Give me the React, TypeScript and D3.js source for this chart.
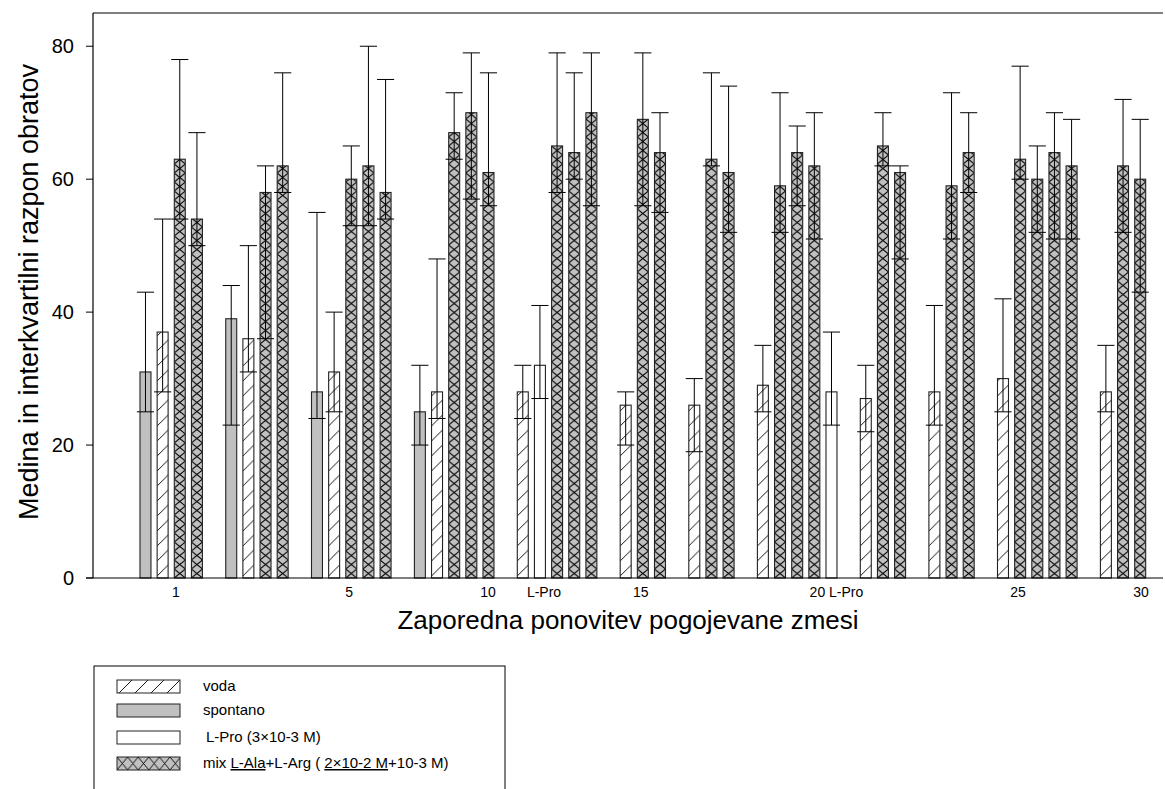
import React from "react";
import * as d3 from "d3";

// ---------- data ----------
const seriesKeys = ["voda", "spontano", "lpro", "mix"];
const legendLabels = ["voda", "spontano", "L-Pro (3×10-3 M)", "mix"];

// slot index (position along the x axis) for each bar
const barSlot = [
  0, 1, 2, 3,
  5, 6, 7, 8,
  10, 11, 12, 13, 14,
  16, 17, 18, 19, 20,
  22, 23, 24, 25, 26,
  28, 29, 30,
  32, 33, 34,
  36, 37, 38, 39, 40,
  42, 43, 44,
  46, 47, 48,
  50, 51, 52, 53, 54,
  56, 57, 58,
];
const barSeries = [
  "spontano", "voda", "mix", "mix",
  "spontano", "voda", "mix", "mix",
  "spontano", "voda", "mix", "mix", "mix",
  "spontano", "voda", "mix", "mix", "mix",
  "voda", "lpro", "mix", "mix", "mix",
  "voda", "mix", "mix",
  "voda", "mix", "mix",
  "voda", "mix", "mix", "mix", "lpro",
  "voda", "mix", "mix",
  "voda", "mix", "mix",
  "voda", "mix", "mix", "mix", "mix",
  "voda", "mix", "mix",
];
const medians = [
  31, 37, 63, 54,
  39, 36, 58, 62,
  28, 31, 60, 62, 58,
  25, 28, 67, 70, 61,
  28, 32, 65, 64, 70,
  26, 69, 64,
  26, 63, 61,
  29, 59, 64, 62, 28,
  27, 65, 61,
  28, 59, 64,
  30, 63, 60, 64, 62,
  28, 62, 60,
];
const q1 = [
  25, 28, 54, 50,
  23, 31, 36, 58,
  24, 25, 53, 53, 54,
  20, 24, 63, 57, 56,
  24, 27, 58, 60, 56,
  20, 56, 55,
  19, 62, 52,
  25, 52, 56, 51, 23,
  22, 62, 48,
  23, 51, 58,
  25, 60, 52, 51, 51,
  25, 52, 43,
];
const q3 = [
  43, 54, 78, 67,
  44, 50, 62, 76,
  55, 40, 65, 80, 75,
  32, 48, 73, 79, 76,
  32, 41, 79, 76, 79,
  28, 79, 70,
  30, 76, 74,
  35, 73, 68, 70, 37,
  32, 70, 62,
  41, 73, 70,
  42, 77, 65, 70, 69,
  35, 72, 69,
];

const yTicks = [0, 20, 40, 60, 80];
const xTickPos = [2.1, 12.19, 20.29, 23.56, 29.2, 40.61, 51.2, 58.37];
const xTickLabels = ["1", "5", "10", "L-Pro", "15", "20 L-Pro", "25", "30"];

// ---------- layout ----------
const W = 1165;
const H = 789;
const left = 93;
const right = 1163;
const top = 13;
const bottom = 578;
const barFrac = 0.64;
const capHalf = 0.5;
const FONT = "'Liberation Sans', Arial, Helvetica, sans-serif";
const GRAY = "#c0c0c0";
const OUTLINE = "#222";

export default function App() {
  const xs = d3.scaleLinear().domain([-2.74, 59.65]).range([left, right]);
  const ys = d3.scaleLinear().domain([0, 85]).range([bottom, top]);
  const step = xs(1) - xs(0);
  const bw = xs(barFrac) - xs(0);

  const fillFor = (s: string) =>
    s === "voda" ? "url(#hatch)" : s === "spontano" ? GRAY : s === "lpro" ? "#fff" : "url(#cross)";

  const legendRows = [
    { key: "voda", y: 680, fill: "url(#hatchL)" },
    { key: "spontano", y: 704, fill: GRAY },
    { key: "lpro", y: 731, fill: "#fff" },
    { key: "mix", y: 757, fill: "url(#crossL)" },
  ];

  return (
    <svg
      width={W}
      height={H}
      style={{ position: "absolute", left: 0, top: 0, background: "#fff" }}
      fontFamily={FONT}
    >
      <defs>
        <pattern id="hatch" patternUnits="userSpaceOnUse" x={xs(0)} y={bottom} width={step} height={15}>
          <rect width={step} height={15} fill="#fff" />
          <line x1={-1} y1={14} x2={13} y2={0} stroke="#000" strokeWidth={0.9} />
        </pattern>
        <pattern id="cross" patternUnits="userSpaceOnUse" x={xs(0)} y={bottom} width={step} height={9}>
          <rect width={step} height={9} fill={GRAY} />
          <line x1={0} y1={0} x2={bw} y2={9} stroke="#000" strokeWidth={1} />
          <line x1={bw} y1={0} x2={0} y2={9} stroke="#000" strokeWidth={1} />
        </pattern>
        <pattern id="hatchL" patternUnits="userSpaceOnUse" x={117} y={680} width={16} height={13}>
          <rect width={16} height={13} fill="#fff" />
          <line x1={2} y1={13} x2={15} y2={0} stroke="#000" strokeWidth={0.9} />
        </pattern>
        <pattern id="crossL" patternUnits="userSpaceOnUse" x={117} y={757} width={10.6} height={13}>
          <rect width={10.6} height={13} fill={GRAY} />
          <line x1={0} y1={0} x2={10.6} y2={13} stroke="#000" strokeWidth={0.9} />
          <line x1={10.6} y1={0} x2={0} y2={13} stroke="#000" strokeWidth={0.9} />
        </pattern>
      </defs>

      {/* bars */}
      {medians.map((m, i) => (
        <rect
          key={"b" + i}
          x={xs(barSlot[i])}
          y={ys(m)}
          width={bw}
          height={ys(0) - ys(m)}
          fill={fillFor(barSeries[i])}
          stroke={OUTLINE}
          strokeWidth={1.1}
        />
      ))}

      {/* error bars */}
      {medians.map((m, i) => {
        const c = barSlot[i] + barFrac / 2;
        const cx = xs(c);
        const x1 = xs(c - capHalf);
        const x2 = xs(c + capHalf);
        return (
          <g key={"e" + i} stroke="#000" strokeWidth={1}>
            <line x1={cx} x2={cx} y1={ys(q1[i])} y2={ys(q3[i])} />
            <line x1={x1} x2={x2} y1={ys(q3[i])} y2={ys(q3[i])} />
            <line x1={x1} x2={x2} y1={ys(q1[i])} y2={ys(q1[i])} />
          </g>
        );
      })}

      {/* frame / axes */}
      <line x1={left} x2={right} y1={top} y2={top} stroke="#000" strokeWidth={1.2} />
      <line x1={left} x2={left} y1={top} y2={bottom} stroke="#000" strokeWidth={1.2} />
      <line x1={left - 7} x2={right} y1={bottom} y2={bottom} stroke="#000" strokeWidth={1.2} />

      {yTicks.map((t) => (
        <g key={"yt" + t}>
          <line x1={left - 7} x2={left} y1={ys(t)} y2={ys(t)} stroke="#000" strokeWidth={1} />
          <text x={left - 19} y={ys(t)} dy="0.36em" textAnchor="end" fontSize={20}>
            {t}
          </text>
        </g>
      ))}

      {xTickLabels.map((l, i) => (
        <text key={"xt" + i} x={xs(xTickPos[i])} y={bottom + 19} textAnchor="middle" fontSize={14}>
          {l}
        </text>
      ))}

      <text x={(left + right) / 2 - 0} y={629} textAnchor="middle" fontSize={26}>
        Zaporedna ponovitev pogojevane zmesi
      </text>
      <text
        transform={`translate(38, 292) rotate(-90)`}
        textAnchor="middle"
        fontSize={27}
      >
        Medina in interkvartilni razpon obratov
      </text>

      {/* legend */}
      <rect x={94} y={666} width={411} height={140} fill="#fff" stroke="#000" strokeWidth={1} />
      {legendRows.map((r, i) => (
        <g key={"lg" + i}>
          <rect x={117} y={r.y} width={63} height={13} fill={r.fill} stroke={OUTLINE} strokeWidth={1} />
          {r.key !== "mix" ? (
            <text x={r.key === "lpro" ? 206 : 203} y={r.y + 11} fontSize={15}>
              {legendLabels[i]}
            </text>
          ) : (
            <text x={203} y={r.y + 11} fontSize={15}>
              {"mix "}
              <tspan textDecoration="underline">L-Ala</tspan>
              {"+L-Arg ( "}
              <tspan textDecoration="underline">2×10-2 M</tspan>
              {"+10-3 M)"}
            </text>
          )}
        </g>
      ))}
    </svg>
  );
}
